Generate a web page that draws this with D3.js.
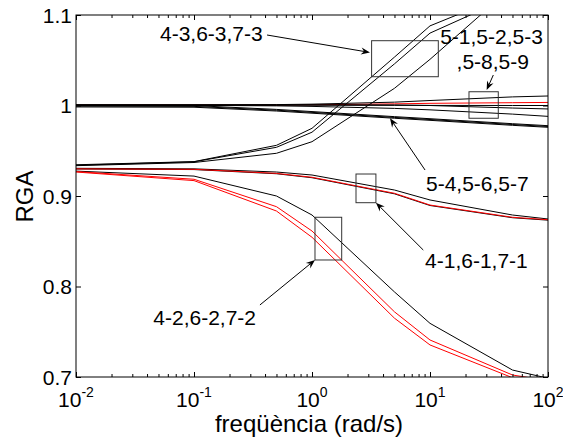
<!DOCTYPE html>
<html><head><meta charset="utf-8">
<script src="https://cdn.jsdelivr.net/npm/d3@7"></script>
<style>
body{margin:0;background:#fff}
svg{display:block}
text{font-family:"Liberation Sans",Arial,sans-serif;fill:#000}
</style>
</head><body>
<svg id="chart" width="563" height="445"></svg>
<script>
// ---------- data ----------
const freqs = [0.01, 0.1, 0.5, 1, 5, 10, 50, 100];

// group 4-3,6-3,7-3
const rga_4_3 = [0.9345, 0.9380, 0.9560, 0.9748, 1.0535, 1.0880, 1.1250, 1.1400];
const rga_6_3 = [0.9340, 0.9378, 0.9538, 0.9705, 1.0460, 1.0800, 1.1210, 1.1370];
const rga_7_3 = [0.9335, 0.9370, 0.9472, 0.9600, 1.0190, 1.0510, 1.1310, 1.1600];
// group 5-1,5-2,5-3,5-8,5-9
const rga_5_1 = [1.0008, 1.0008, 1.0010, 1.0015, 1.0037, 1.0055, 1.0095, 1.0105];
const rga_5_2 = [1.0005, 1.0005, 1.0005, 1.0008, 1.0018, 1.0024, 1.0031, 1.0034];
const rga_5_3 = [1.0005, 1.0005, 1.0005, 1.0008, 1.0006, 1.0000, 0.9972, 0.9962];
const rga_5_8 = [1.0003, 1.0002, 0.9996, 0.9990, 0.9968, 0.9952, 0.9905, 0.9880];
const rga_5_9 = [1.0004, 1.0004, 1.0004, 1.0003, 1.0002, 1.0001, 1.0000, 1.0000];
// group 5-4,5-6,5-7
const rga_5_4 = [1.0002, 0.9999, 0.9957, 0.9933, 0.9877, 0.9854, 0.9799, 0.9777];
const rga_5_6 = [0.9993, 0.9990, 0.9948, 0.9924, 0.9868, 0.9845, 0.9790, 0.9768];
const rga_5_7 = [0.9984, 0.9981, 0.9939, 0.9915, 0.9859, 0.9836, 0.9781, 0.9759];
// group 4-1,6-1,7-1
const rga_4_1 = [0.9306, 0.9300, 0.9265, 0.9232, 0.9066, 0.8956, 0.8790, 0.8746];
const rga_6_1 = [0.9300, 0.9295, 0.9250, 0.9207, 0.9030, 0.8900, 0.8765, 0.8738];
const rga_7_1 = [0.9298, 0.9292, 0.9246, 0.9202, 0.9024, 0.8895, 0.8760, 0.8733];
// group 4-2,6-2,7-2
const rga_4_2 = [0.9275, 0.9220, 0.9000, 0.8790, 0.7940, 0.7593, 0.7077, 0.6986];
const rga_6_2 = [0.9270, 0.9185, 0.8882, 0.8613, 0.7720, 0.7409, 0.7022, 0.6960];
const rga_7_2 = [0.9265, 0.9170, 0.8834, 0.8544, 0.7650, 0.7354, 0.6992, 0.6920];

const xMajorTicks = [0.01, 0.1, 1, 10, 100];
const xTickExponents = ["-2", "-1", "0", "1", "2"];
const yTicks = [0.7, 0.8, 0.9, 1.0, 1.1];
const yTickLabels = ["0.7", "0.8", "0.9", "1", "1.1"];

// annotations (data coordinates)
const annLabels = [
  {text: "4-3,6-3,7-3", f: 0.0515, v: 1.0713},
  {text: "5-1,5-2,5-3", f: 12.2, v: 1.068},
  {text: ",5-8,5-9", f: 16.8, v: 1.0403},
  {text: "5-4,5-6,5-7", f: 9.25, v: 0.9055},
  {text: "4-1,6-1,7-1", f: 9.08, v: 0.8205},
  {text: "4-2,6-2,7-2", f: 0.0452, v: 0.7578}
];
const annArrows = [
  {f1: 0.416, v1: 1.0779, f2: 3.10, v2: 1.0586},
  {f1: 34.4, v1: 1.0337, f2: 30.2, v2: 1.0171},
  {f1: 9.08, v1: 0.9287, f2: 4.58, v2: 0.9859},
  {f1: 8.77, v1: 0.8403, f2: 3.48, v2: 0.8926},
  {f1: 0.362, v1: 0.7796, f2: 1.06, v2: 0.8293}
];
const annBoxes = [
  {f1: 3.2, f2: 11.76, v1: 1.0716, v2: 1.0318},
  {f1: 21.4, f2: 37.9, v1: 1.0152, v2: 0.9859},
  {f1: 2.36, f2: 3.48, v1: 0.9243, v2: 0.8926},
  {f1: 1.06, f2: 1.785, v1: 0.8765, v2: 0.8293}
];

// ---------- series table (drawing order) ----------
const series = [
  {id: "5-2", values: rga_5_2, red: true},
  {id: "5-1", values: rga_5_1, red: false},
  {id: "5-3", values: rga_5_3, red: false},
  {id: "5-8", values: rga_5_8, red: false},
  {id: "5-9", values: rga_5_9, red: false},
  {id: "5-4", values: rga_5_4, red: false},
  {id: "5-6", values: rga_5_6, red: false},
  {id: "5-7", values: rga_5_7, red: false},
  {id: "4-3", values: rga_4_3, red: false},
  {id: "6-3", values: rga_6_3, red: false},
  {id: "7-3", values: rga_7_3, red: false},
  {id: "4-1", values: rga_4_1, red: false},
  {id: "7-1", values: rga_7_1, red: false},
  {id: "6-1", values: rga_6_1, red: true},
  {id: "4-2", values: rga_4_2, red: false},
  {id: "6-2", values: rga_6_2, red: true},
  {id: "7-2", values: rga_7_2, red: true}
];

// ---------- drawing ----------
const L = 76, R = 548, T = 15, B = 377;
const svg = d3.select("#chart");
const x = d3.scaleLog().domain([0.01, 100]).range([L, R]);
const y = d3.scaleLinear().domain([0.7, 1.1]).range([B, T]);

svg.append("defs").append("clipPath").attr("id", "clip")
  .append("rect").attr("x", L).attr("y", T).attr("width", R - L).attr("height", B - T);

const line = d3.line().x(d => x(d[0])).y(d => y(d[1]));
const gLines = svg.append("g").attr("clip-path", "url(#clip)");
series.forEach(s => {
  gLines.append("path")
    .datum(freqs.map((f, i) => [f, s.values[i]]))
    .attr("d", line)
    .attr("fill", "none")
    .attr("stroke", s.red ? "#ff0000" : "#000")
    .attr("stroke-width", 1);
});

// minor ticks
const minorTicks = [];
for (let e = -2; e < 2; e++) for (let k = 2; k <= 9; k++) minorTicks.push(k * Math.pow(10, e));

function styleAxis(g) {
  g.select(".domain").remove();
  g.selectAll(".tick line").attr("stroke", "#000").attr("stroke-width", 1);
  g.selectAll(".tick text").remove();
}
svg.append("g").attr("transform", `translate(0,${B})`)
  .call(d3.axisBottom(x).tickValues(xMajorTicks).tickSize(-5).tickFormat("")).call(styleAxis);
svg.append("g").attr("transform", `translate(0,${B})`)
  .call(d3.axisBottom(x).tickValues(minorTicks).tickSize(-3).tickFormat("")).call(styleAxis);
svg.append("g").attr("transform", `translate(0,${T})`)
  .call(d3.axisTop(x).tickValues(xMajorTicks).tickSize(-5).tickFormat("")).call(styleAxis);
svg.append("g").attr("transform", `translate(0,${T})`)
  .call(d3.axisTop(x).tickValues(minorTicks).tickSize(-3).tickFormat("")).call(styleAxis);
svg.append("g").attr("transform", `translate(${L},0)`)
  .call(d3.axisLeft(y).tickValues(yTicks).tickSize(-5).tickFormat("")).call(styleAxis);
svg.append("g").attr("transform", `translate(${R},0)`)
  .call(d3.axisRight(y).tickValues(yTicks).tickSize(-5).tickFormat("")).call(styleAxis);

// frame
svg.append("rect").attr("x", L).attr("y", T).attr("width", R - L).attr("height", B - T)
  .attr("fill", "none").attr("stroke", "#000").attr("stroke-width", 1);

// tick labels
xMajorTicks.forEach((t, i) => {
  const tx = svg.append("text").attr("x", x(t)).attr("y", 407)
    .attr("text-anchor", "middle").attr("font-size", 21);
  tx.append("tspan").text("10");
  tx.append("tspan").attr("dy", -10).attr("font-size", 14).text(xTickExponents[i]);
});
yTicks.forEach((t, i) => {
  svg.append("text").attr("x", 72).attr("y", y(t) + 7.5)
    .attr("text-anchor", "end").attr("font-size", 21).text(yTickLabels[i]);
});

// axis labels
svg.append("text").attr("x", 309).attr("y", 431.5).attr("text-anchor", "middle")
  .attr("font-size", 24).text("freqüència (rad/s)");
svg.append("text").attr("transform", "translate(33,196.5) rotate(-90)")
  .attr("text-anchor", "middle").attr("font-size", 24).text("RGA");

// annotation boxes
annBoxes.forEach(b => {
  svg.append("rect")
    .attr("x", x(b.f1)).attr("y", y(b.v1))
    .attr("width", x(b.f2) - x(b.f1)).attr("height", y(b.v2) - y(b.v1))
    .attr("fill", "none").attr("stroke", "#333").attr("stroke-width", 1);
});
// annotation arrows
annArrows.forEach(a => {
  const x1 = x(a.f1), y1 = y(a.v1), x2 = x(a.f2), y2 = y(a.v2);
  const ang = Math.atan2(y2 - y1, x2 - x1);
  const len = 9, hw = 3.5, notch = 6;
  const ux = Math.cos(ang), uy = Math.sin(ang);
  const px = -uy, py = ux;
  svg.append("line").attr("x1", x1).attr("y1", y1)
    .attr("x2", x2 - ux * notch).attr("y2", y2 - uy * notch)
    .attr("stroke", "#000").attr("stroke-width", 1);
  const pts = [
    [x2, y2],
    [x2 - ux * len + px * hw, y2 - uy * len + py * hw],
    [x2 - ux * notch, y2 - uy * notch],
    [x2 - ux * len - px * hw, y2 - uy * len - py * hw]
  ];
  svg.append("polygon").attr("points", pts.map(p => p.join(",")).join(" ")).attr("fill", "#000");
});
// annotation labels
annLabels.forEach(l => {
  svg.append("text").attr("x", x(l.f)).attr("y", y(l.v))
    .attr("font-size", 21).text(l.text);
});
</script>
</body></html>
